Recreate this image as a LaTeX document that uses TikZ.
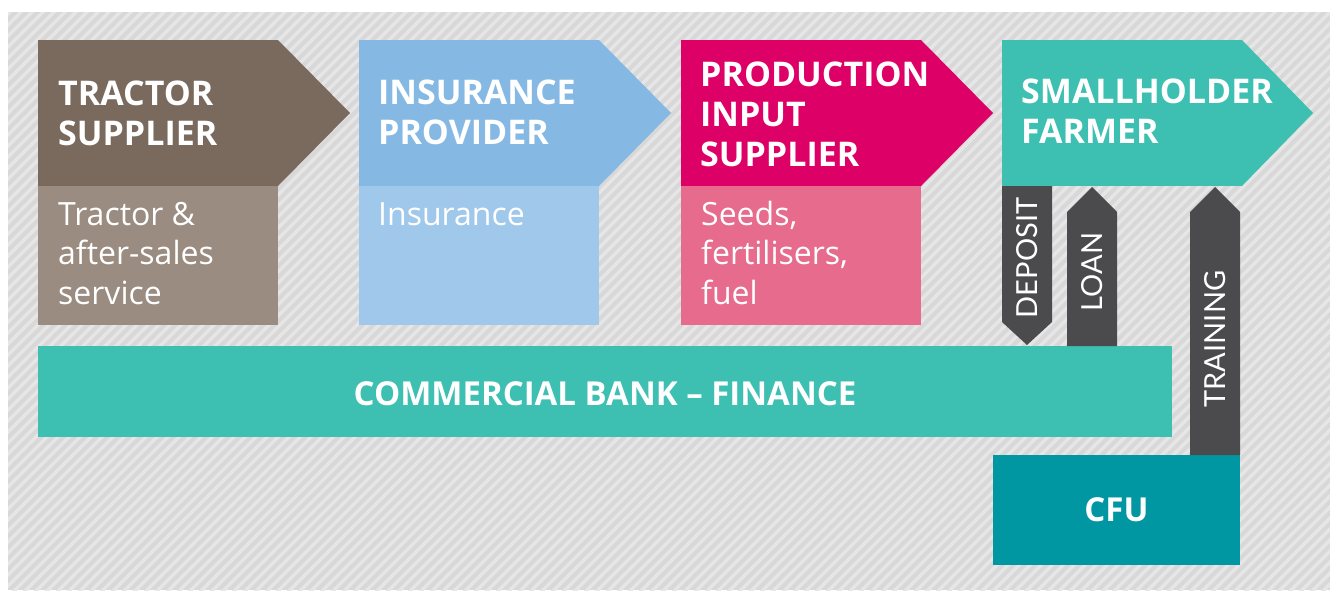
\documentclass[tikz,border=0pt]{standalone}
\usepackage{fontspec}
\setmainfont{Open Sans}
\newfontfamily\flowfont{Lato}
\usetikzlibrary{calc}

\definecolor{bgGrey}{HTML}{D8D8D8}
\definecolor{bgStripe}{HTML}{E6E6E6}
\definecolor{tractorDark}{HTML}{7A6A5E}
\definecolor{tractorLight}{HTML}{9A8C81}
\definecolor{insDark}{HTML}{85B9E3}
\definecolor{insLight}{HTML}{A0C8EA}
\definecolor{prodDark}{HTML}{DC0067}
\definecolor{prodLight}{HTML}{E66B8C}
\definecolor{farmTeal}{HTML}{3DBFB1}
\definecolor{cfuTeal}{HTML}{0097A2}
\definecolor{flowGrey}{HTML}{4B4B4E}

\begin{document}
\begin{tikzpicture}[x=1pt,y=-1pt,
  box/.style={rectangle, inner sep=0pt, outer sep=0pt, draw=none, anchor=north west},
  headbox/.style={box, minimum width=240, minimum height=146},
  subbox/.style={box, minimum width=240, minimum height=139},
  % base anchor of a multi-line node sits on its last line
  title/.style={anchor=base west, inner sep=0pt, text=white, align=left,
    font=\fontsize{34}{40}\selectfont\bfseries},
  detail/.style={anchor=base west, inner sep=0pt, text=white, align=left,
    font=\fontsize{32}{39.5}\selectfont},
  flowtext/.style={text=white, rotate=90, inner sep=0pt,
    font=\flowfont\fontsize{29}{29}\selectfont},
  banktext/.style={text=white, font=\fontsize{33}{33}\selectfont\bfseries},
]
\useasboundingbox (0,0) rectangle (1330,590);

% striped grey backdrop
\begin{scope}
  \clip (8,12) rectangle (1330,590);
  \fill[bgGrey] (8,12) rectangle (1330,590);
  \foreach \i in {0,...,176}
    \draw[bgStripe, line width=3.5] ({-600+\i*11},600) -- ++(620,-620);
\end{scope}

% tractor supplier
\node[headbox, fill=tractorDark] (tractor) at (38,40) {};
\fill[tractorDark] (tractor.north east) -- ($(tractor.east)+(72,0)$) -- (tractor.south east) -- cycle;
\node[subbox, fill=tractorLight] (tractorsub) at (tractor.south west) {};
\node[title] (tractortitle) at (58,145) {TRACTOR\\SUPPLIER};
\node[detail] (tractordetail) at (58,304) {Tractor \&\\after-sales\\service};

% insurance provider
\node[headbox, fill=insDark] (insurance) at (359,40) {};
\fill[insDark] (insurance.north east) -- ($(insurance.east)+(72,0)$) -- (insurance.south east) -- cycle;
\node[subbox, fill=insLight] (insurancesub) at (insurance.south west) {};
\node[title] (insurancetitle) at (378,144) {INSURANCE\\PROVIDER};
\node[detail] (insurancedetail) at (378,225) {Insurance};

% production input supplier
\node[headbox, fill=prodDark] (production) at (681,40) {};
\fill[prodDark] (production.north east) -- ($(production.east)+(72,0)$) -- (production.south east) -- cycle;
\node[subbox, fill=prodLight] (productionsub) at (production.south west) {};
\node[title] (productiontitle) at (700,166) {PRODUCTION\\INPUT\\SUPPLIER};
\node[detail] (productiondetail) at (701,304) {Seeds,\\fertilisers,\\fuel};

% smallholder farmer
\node[headbox, fill=farmTeal] (farmer) at (1002,40) {};
\fill[farmTeal] (farmer.north east) -- ($(farmer.east)+(71,0)$) -- (farmer.south east) -- cycle;
\node[title] (farmertitle) at (1021,143) {SMALLHOLDER\\FARMER};

% commercial bank and CFU
\node[box, fill=farmTeal, minimum width=1134, minimum height=91] (bank) at (38,346) {};
\node[banktext] (banktitle) at ($(bank.center)+(0,2)$) {COMMERCIAL BANK -- FINANCE};
\node[box, fill=cfuTeal, minimum width=247, minimum height=110] (cfu) at (993,455) {};
\node[banktext] (cfutitle) at (cfu.center) {CFU};

% deposit: farmer down to bank
\fill[flowGrey] (farmer.south west) -- ++(50,0) -- ++(0,136) -- ++(-25,23) -- ++(-25,-23) -- cycle;
\node[flowtext] (deposit) at (1027,258) {DEPOSIT};

% loan: bank up to farmer
\fill[flowGrey] ($(bank.north east)+(-105,0)$) -- ++(50,0) -- ++(0,-134) -- ++(-25,-25) -- ++(-25,25) -- cycle;
\node[flowtext] (loan) at (1092,272) {LOAN};

% training: CFU up to farmer
\fill[flowGrey] (cfu.north east) -- ++(-50,0) -- ++(0,-243) -- ++(25,-25) -- ++(25,25) -- cycle;
\node[flowtext] (training) at (1215,339) {TRAINING};

\end{tikzpicture}
\end{document}
